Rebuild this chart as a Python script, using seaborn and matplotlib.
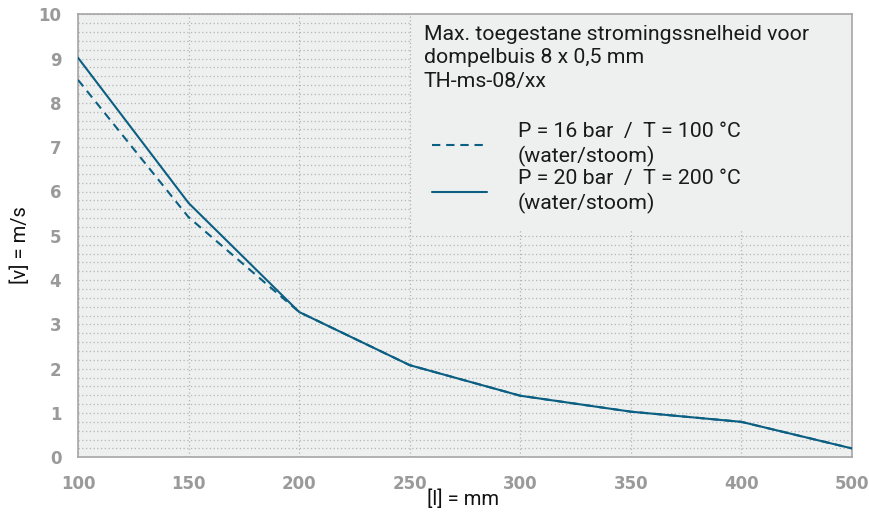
import matplotlib
matplotlib.use("Agg")
import numpy as np
import pandas as pd
import matplotlib.pyplot as plt
from matplotlib.patches import Rectangle
from matplotlib.ticker import FixedLocator, MultipleLocator
import seaborn as sns

# immersion length categories (equally spaced on the chart, no 450)
lengths = [100, 150, 200, 250, 300, 350, 400, 500]
# max. velocity in m/s
v_16bar = [8.52, 5.42, 3.28, 2.08, 1.39, 1.03, 0.80, 0.20]
v_20bar = [9.02, 5.74, 3.28, 2.08, 1.39, 1.03, 0.80, 0.20]

label_16 = "P = 16 bar  /  T = 100 °C\n(water/stoom)"
label_20 = "P = 20 bar  /  T = 200 °C\n(water/stoom)"
title_txt = "Max. toegestane stromingssnelheid voor\ndompelbuis 8 x 0,5 mm\nTH-ms-08/xx"

LINE_COL = "#0b5f82"
BG = "#eef0ef"
GRID_COL = "#b4b4b4"
SPINE_COL = "#a6a6a6"
TICK_COL = "#9a9a9a"
TXT_COL = "#1a1a1a"

sns.set_style("white")
plt.rcParams["font.family"] = ["Roboto", "DejaVu Sans"]

df = pd.DataFrame({
    "pos": list(range(len(lengths))) * 2,
    "v": v_16bar + v_20bar,
    "serie": [label_16] * len(lengths) + [label_20] * len(lengths),
})

fig = plt.figure(figsize=(8.7, 5.14), dpi=100)
ax = fig.add_axes([78 / 870, 1 - 457.3 / 514, 774 / 870, 443 / 514])
ax.set_facecolor(BG)

sns.lineplot(
    data=df, x="pos", y="v", style="serie",
    style_order=[label_16, label_20],
    dashes={label_16: (4.0, 2.8), label_20: ""},
    color=LINE_COL, linewidth=1.5, legend=False, ax=ax, zorder=3,
)

ax.set_xlim(0, len(lengths) - 1)
ax.set_ylim(0, 10)
ax.xaxis.set_major_locator(FixedLocator(range(len(lengths))))
ax.set_xticklabels([str(l) for l in lengths])
ax.yaxis.set_major_locator(MultipleLocator(1))
ax.yaxis.set_minor_locator(MultipleLocator(0.2))

# dotted grid
ax.set_axisbelow(True)
ax.grid(axis="x", which="major", color=GRID_COL, linestyle=(0, (1, 2)), linewidth=0.9)
ax.grid(axis="y", which="both", color=GRID_COL, linestyle=(0, (1, 2)), linewidth=0.9)

for s in ax.spines.values():
    s.set_color(SPINE_COL)
    s.set_linewidth(1.2)

ax.tick_params(axis="both", which="major", length=8, width=1.2, color=SPINE_COL,
               labelcolor=TICK_COL, labelsize=12)
ax.tick_params(axis="y", which="minor", length=0)
ax.tick_params(axis="x", pad=5)
ax.tick_params(axis="y", pad=4)
for lab in ax.get_xticklabels() + ax.get_yticklabels():
    lab.set_family("DejaVu Sans")
    lab.set_fontweight("bold")

# only the end ticks are solid, inner x ticks dotted, inner y ticks hidden
yticks = ax.yaxis.get_major_ticks()
for t in yticks[1:-1]:
    t.tick1line.set_visible(False)
xticks = ax.xaxis.get_major_ticks()
for t in xticks[1:-1]:
    t.tick1line.set_linestyle((0, (1, 2)))
    t.tick1line.set_color(GRID_COL)
    t.tick1line.set_linewidth(0.9)

# legend panel covering the grid in the top right
panel_x = 3
panel_y = 5.1
ax.add_patch(Rectangle((panel_x, panel_y), len(lengths) - 1 - panel_x, 10 - panel_y,
                       facecolor=BG, edgecolor="none", zorder=2))
ax.plot([panel_x, panel_x], [panel_y, 10], color=GRID_COL, linestyle=(0, (1, 2)),
        linewidth=0.9, zorder=2.1)

ax.text(0.447, 0.976, title_txt, transform=ax.transAxes, ha="left", va="top",
        fontsize=15.3, color=TXT_COL, linespacing=1.3, zorder=4)

handles = ax.get_lines()[:2]
leg = ax.legend(handles, [label_16, label_20], loc="upper left",
                bbox_to_anchor=(0.457, 0.757), frameon=False, borderpad=0,
                borderaxespad=0, fontsize=15.3, handlelength=2.6,
                handletextpad=1.46, labelspacing=0.1, labelcolor=TXT_COL)
for t in leg.get_texts():
    t.set_linespacing(1.3)
leg.set_zorder(4)

ax.set_xlabel("[l] = mm", fontsize=14.5, color="#111111")
ax.set_ylabel("[v] = m/s", fontsize=14.5, color="#111111")
ax.xaxis.set_label_coords(0.497, -0.072)
ax.yaxis.set_label_coords(-0.062, 0.48)

fig.savefig("out.png", dpi=100, facecolor="white")
